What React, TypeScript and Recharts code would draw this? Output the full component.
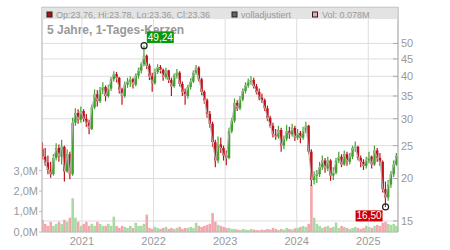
import { ComposedChart, Bar, Line, XAxis, YAxis, CartesianGrid, Cell, ReferenceDot } from 'recharts';

// biweekly candles: [open, high, low, close]
const candles: number[][] = [
  [24.5, 25.6, 22.8, 23.2], [23.2, 24.6, 21.8, 22.3], [22.3, 23.4, 20.6, 21.2], [21.2, 22.4, 20.1, 20.6], [20.6, 23.6, 20.4, 23.0],
  [23.0, 25.4, 22.6, 24.6], [24.6, 25.2, 22.4, 23.2], [23.2, 26.0, 22.0, 24.8], [24.8, 25.0, 19.6, 21.0], [21.0, 24.4, 20.8, 23.6],
  [23.6, 24.0, 19.9, 20.6], [20.6, 30.2, 20.4, 29.2], [29.2, 32.2, 28.6, 31.2], [31.2, 32.0, 29.0, 29.8], [29.8, 32.6, 29.2, 31.6],
  [31.6, 32.0, 29.4, 30.0], [30.0, 31.0, 28.4, 29.2], [29.2, 29.8, 27.0, 28.0], [28.0, 33.0, 27.8, 32.4], [32.4, 36.6, 32.0, 35.4],
  [35.4, 36.4, 32.6, 33.8], [33.8, 37.2, 33.4, 36.4], [36.4, 38.4, 35.4, 37.2], [37.2, 37.6, 33.8, 35.0], [35.0, 37.8, 34.6, 36.8],
  [36.8, 39.8, 36.2, 39.2], [39.2, 41.4, 38.6, 40.6], [40.6, 41.2, 38.4, 39.6], [39.6, 39.8, 35.6, 36.6], [36.6, 37.0, 33.0, 35.0],
  [35.0, 38.6, 34.6, 37.8], [37.8, 39.6, 37.0, 38.6], [38.6, 40.0, 37.2, 39.2], [39.2, 39.6, 36.8, 37.8], [37.8, 40.8, 37.4, 40.2],
  [40.2, 42.4, 39.4, 41.6], [41.6, 44.0, 40.8, 43.4], [43.4, 49.24, 42.8, 46.0], [46.0, 46.4, 42.0, 43.0], [43.0, 43.6, 39.0, 40.0],
  [40.0, 41.0, 36.0, 38.2], [38.2, 42.2, 37.8, 41.2], [41.2, 43.4, 40.6, 42.6], [42.6, 43.2, 40.8, 41.8], [41.8, 42.2, 38.8, 39.8],
  [39.8, 42.4, 39.2, 41.6], [41.6, 41.8, 38.2, 39.0], [39.0, 39.6, 35.0, 37.4], [37.4, 40.8, 37.0, 40.2], [40.2, 42.0, 39.4, 41.0],
  [41.0, 41.4, 37.4, 38.0], [38.0, 38.6, 35.0, 36.0], [36.0, 36.8, 33.0, 35.0], [35.0, 37.8, 34.4, 37.2], [37.2, 39.4, 36.6, 38.6],
  [38.6, 41.6, 38.2, 41.0], [41.0, 43.2, 40.4, 42.4], [42.4, 42.8, 38.6, 39.2], [39.2, 39.6, 35.2, 36.0], [36.0, 36.4, 33.2, 34.0],
  [34.0, 34.4, 30.2, 31.0], [31.0, 31.6, 28.2, 29.0], [29.0, 29.4, 24.8, 25.6], [25.6, 26.0, 21.6, 22.6], [22.6, 26.6, 22.2, 25.2],
  [25.2, 26.4, 23.8, 24.6], [24.6, 25.0, 22.6, 23.4], [23.4, 24.2, 21.9, 23.0], [23.0, 28.2, 22.8, 27.6], [27.6, 30.2, 27.2, 29.6],
  [29.6, 34.4, 29.2, 33.4], [33.4, 34.0, 31.6, 32.2], [32.2, 35.0, 31.8, 34.2], [34.2, 36.8, 33.8, 36.2], [36.2, 38.4, 35.6, 37.6],
  [37.6, 39.4, 37.0, 38.6], [38.6, 40.0, 37.8, 39.0], [39.0, 39.6, 36.8, 37.4], [37.4, 38.0, 35.4, 36.0], [36.0, 36.8, 34.0, 34.6],
  [34.6, 35.6, 33.4, 34.0], [34.0, 34.4, 31.6, 32.2], [32.2, 32.8, 29.6, 30.2], [30.2, 30.6, 28.2, 28.6], [28.6, 29.2, 26.4, 27.0],
  [27.0, 28.0, 26.0, 26.6], [26.6, 28.6, 26.2, 27.8], [27.8, 28.2, 24.0, 25.0], [25.0, 26.8, 24.4, 26.2], [26.2, 28.8, 25.8, 27.6],
  [27.6, 28.4, 26.2, 27.0], [27.0, 29.0, 26.6, 28.2], [28.2, 28.6, 25.8, 26.4], [26.4, 28.0, 26.0, 27.2], [27.2, 27.6, 25.4, 26.4],
  [26.4, 28.4, 26.0, 27.6], [27.6, 29.4, 27.2, 28.6], [28.6, 28.8, 23.6, 24.0], [24.0, 24.4, 19.0, 19.8], [19.8, 21.0, 19.2, 20.4],
  [20.4, 21.2, 19.4, 20.6], [20.6, 22.4, 20.2, 21.6], [21.6, 23.4, 21.2, 22.6], [22.6, 23.0, 20.8, 21.4], [21.4, 23.2, 21.0, 22.6],
  [22.6, 22.8, 19.7, 20.4], [20.4, 21.6, 19.8, 20.8], [20.8, 23.0, 20.6, 22.6], [22.6, 24.0, 22.2, 23.2], [23.2, 23.6, 21.6, 22.0],
  [22.0, 24.2, 21.8, 23.6], [23.6, 24.0, 21.8, 22.4], [22.4, 23.8, 22.0, 23.2], [23.2, 25.0, 22.8, 24.6], [24.6, 25.7, 24.0, 24.8],
  [24.8, 25.0, 22.6, 23.0], [23.0, 23.4, 21.6, 22.4], [22.4, 22.8, 21.2, 21.8], [21.8, 23.2, 21.4, 22.6], [22.6, 24.0, 22.2, 23.2],
  [23.2, 23.4, 21.4, 22.0], [22.0, 25.0, 21.8, 24.2], [24.2, 24.6, 22.4, 23.0], [23.0, 23.8, 21.8, 22.4], [22.4, 22.6, 18.2, 18.6],
  [18.6, 19.6, 16.5, 17.6], [17.6, 19.8, 17.2, 19.2], [19.2, 21.0, 18.8, 20.6], [20.6, 22.6, 20.2, 22.0], [22.0, 23.8, 21.8, 23.36],
];

// volume in millions, one per candle
const volume = [
  0.6, 0.4, 0.3, 0.5, 0.3, 0.4, 0.5, 0.4, 0.6, 0.5,
  0.7, 1.65, 0.7, 0.5, 0.3, 0.4, 0.5, 0.3, 0.4, 0.3,
  0.5, 0.4, 0.3, 0.3, 0.4, 0.3, 0.75, 0.3, 0.2, 0.3,
  0.25, 0.2, 0.3, 0.2, 0.45, 0.3, 0.3, 0.4, 0.85, 0.2,
  0.15, 0.25, 0.2, 0.15, 0.2, 0.25, 0.15, 0.2, 0.15, 0.2,
  0.25, 0.15, 0.2, 0.2, 0.25, 0.2, 0.45, 0.3, 0.25, 0.3,
  0.35, 0.4, 0.93, 0.5, 0.35, 0.3, 0.25, 0.2, 0.2, 0.15,
  0.15, 0.12, 0.1, 0.15, 0.12, 0.1, 0.15, 0.12, 0.1, 0.08,
  0.12, 0.1, 0.15, 0.12, 0.2, 0.15, 0.1, 0.15, 0.12, 0.2,
  0.15, 0.12, 0.18, 0.2, 0.25, 0.3, 0.25, 0.4, 2.3, 0.7,
  0.4, 0.3, 0.2, 0.25, 0.3, 0.2, 0.25, 0.46, 0.2, 0.3,
  0.25, 0.2, 0.15, 0.2, 0.25, 0.2, 0.15, 0.2, 0.3, 0.25,
  0.2, 0.3, 0.35, 0.3, 0.45, 0.5, 0.4, 0.35, 0.4, 0.3,
];

// one candle every two weeks starting mid June 2020
const dates = candles.map((_, i) => 2020.45 + (i * 14) / 365.25);

const yearTicks = [2021, 2022, 2023, 2024, 2025];
const priceTicks = [15, 20, 25, 30, 35, 40, 45, 50];
const volTicks = [0, 1, 2, 3];
const legendOhlc = 'Op:23.76, Hi:23.78, Lo:23.36, Cl:23.36';
const legendVol = 'Vol: 0.078M';

const GREEN = '#3fa22b';
const RED = '#c0131b';
const VOL_UP = '#a8daa2';
const VOL_DOWN = '#f2a6ad';
const AXIS_TEXT = '#999';

const data = dates.map((t, i) => ({
  t,
  o: candles[i][0],
  h: candles[i][1],
  l: candles[i][2],
  c: candles[i][3],
  vol: volume[i],
}));

const highs = data.map((d) => d.h);
const lows = data.map((d) => d.l);
const hiIdx = highs.indexOf(Math.max(...highs));
const loIdx = lows.indexOf(Math.min(...lows));

const fmtPrice = (v: number) => v.toFixed(2).replace('.', ',');
const fmtVol = (v: number) => v.toFixed(1).replace('.', ',') + 'M';

function Candle(props: any) {
  const { x, y, width, height, payload } = props;
  if (x == null || y == null) return null;
  const top = Math.min(y, y + height);
  const bottom = Math.max(y, y + height);
  const { o, h, l, c } = payload;
  const span = Math.log(h) - Math.log(l);
  const py = (v: number) => (span > 0 ? top + ((Math.log(h) - Math.log(v)) / span) * (bottom - top) : top);
  const color = c >= o ? GREEN : RED;
  const mid = x + width / 2;
  const bTop = py(Math.max(o, c));
  const bBot = py(Math.min(o, c));
  return (
    <g>
      <line x1={mid} x2={mid} y1={top} y2={bottom} stroke={color} strokeWidth={1.2} />
      <rect x={x} y={bTop} width={width} height={Math.max(1, bBot - bTop)} fill={color} />
    </g>
  );
}

function PriceTick(props: any) {
  const { x, y, payload } = props;
  return (
    <g>
      <line x1={x - 5} x2={x} y1={y} y2={y} stroke="#aaa" />
      <text x={x + 3} y={y} dy="0.355em" fontSize={11} fill={AXIS_TEXT}>
        {payload.value}
      </text>
    </g>
  );
}

function HighMark(props: any) {
  const { cx, cy } = props;
  return (
    <g>
      <circle cx={cx} cy={cy} r={3} fill="none" stroke="#222" strokeWidth={1.2} />
      <rect x={cx + 2.7} y={cy - 14.3} width={27} height={11.6} fill="#0a960a" />
      <text x={cx + 16.2} y={cy - 5} textAnchor="middle" fontSize={10} fill="#fff">
        {fmtPrice(data[hiIdx].h)}
      </text>
    </g>
  );
}

function LowMark(props: any) {
  const { cx, cy } = props;
  return (
    <g>
      <circle cx={cx} cy={cy} r={3} fill="none" stroke="#222" strokeWidth={1.2} />
      <rect x={cx - 30} y={cy + 3.5} width={27} height={11} fill="#cc0000" />
      <text x={cx - 16.5} y={cy + 12.3} textAnchor="middle" fontSize={10} fill="#fff">
        {fmtPrice(data[loIdx].l)}
      </text>
    </g>
  );
}

const T0 = 2020.442;
const T1 = 2025.415;

export default function App() {
  return (
    <div
      style={{
        position: 'absolute',
        left: 0,
        top: 0,
        width: 450,
        height: 250,
        background: '#fff',
        fontFamily: '"Liberation Sans", Arial, sans-serif',
      }}
    >
      <svg width={450} height={250} style={{ position: 'absolute', left: 0, top: 0 }}>
        <text x={47} y={34} fontSize={12} fontWeight="bold" fill="#999">
          5 Jahre, 1-Tages-Kerzen
        </text>
      </svg>
      <div style={{ position: 'absolute', left: 0, top: 0 }}>
        <ComposedChart width={450} height={250} data={data} margin={{ top: 7, right: 0, bottom: 0, left: 0 }}>
          <XAxis
            xAxisId="time"
            dataKey="t"
            type="number"
            domain={[T0, T1]}
            allowDataOverflow
            ticks={yearTicks}
            interval={0}
            tickFormatter={(v) => String(v)}
            tick={{ fontSize: 11, fill: AXIS_TEXT }}
            tickLine={false}
            tickSize={3}
            tickMargin={2}
            height={18}
            axisLine={{ stroke: '#bbb' }}
          />
          <XAxis xAxisId="vol" dataKey="t" type="number" domain={[T0, T1]} allowDataOverflow hide />
          <YAxis
            yAxisId="vol"
            orientation="left"
            domain={[0, 11]}
            allowDataOverflow
            ticks={volTicks}
            interval={0}
            tickFormatter={fmtVol}
            width={42}
            tick={{ fontSize: 11, fill: AXIS_TEXT }}
            tickSize={3}
            tickMargin={1}
            stroke="#bbb"
          />
          <YAxis
            yAxisId="price"
            orientation="right"
            scale="log"
            domain={[13.92, 64]}
            allowDataOverflow
            ticks={priceTicks}
            interval={0}
            width={52}
            tick={<PriceTick />}
            tickLine={false}
            tickSize={0}
            tickMargin={0}
            axisLine={{ stroke: '#aaa' }}
          />
          <CartesianGrid xAxisId="time" yAxisId="price" stroke="#ddd" />
          <Bar xAxisId="vol" yAxisId="vol" dataKey="vol" barSize={2.6} isAnimationActive={false}>
            {data.map((d, i) => (
              <Cell key={i} fill={d.c >= d.o ? VOL_UP : VOL_DOWN} />
            ))}
          </Bar>
          <Line
            xAxisId="time"
            yAxisId="price"
            dataKey="c"
            stroke="#b4b4b4"
            strokeWidth={1}
            dot={false}
            isAnimationActive={false}
          />
          <Bar
            xAxisId="time"
            yAxisId="price"
            dataKey={(d: any) => [d.l, d.h]}
            barSize={2.8}
            shape={(p: any) => <Candle {...p} />}
            isAnimationActive={false}
          />
          <ReferenceDot
            xAxisId="time"
            yAxisId="price"
            x={data[hiIdx].t}
            y={data[hiIdx].h}
            r={3}
            shape={(p: any) => <HighMark {...p} />}
          />
          <ReferenceDot
            xAxisId="time"
            yAxisId="price"
            x={data[loIdx].t}
            y={data[loIdx].l}
            r={3}
            shape={(p: any) => <LowMark {...p} />}
          />
        </ComposedChart>
      </div>
      <svg width={450} height={250} style={{ position: 'absolute', left: 0, top: 0, pointerEvents: 'none' }}>
        <rect x={42} y={8} width={355.5} height={11} fill="#e3e3e3" />
        <line x1={41.5} x2={398} y1={7.5} y2={7.5} stroke="#ccc" />
        <rect x={47} y={12} width={5} height={5} fill="#b01010" stroke="#222" />
        <text x={56} y={18} fontSize={9} fill={AXIS_TEXT}>
          {legendOhlc}
        </text>
        <rect x={232} y={12} width={5} height={5} fill="#666" stroke="#222" />
        <text x={241} y={18} fontSize={9} fill={AXIS_TEXT}>
          volladjustiert
        </text>
        <rect x={312.5} y={12} width={5} height={5} fill={VOL_DOWN} stroke="#222" />
        <text x={322} y={18} fontSize={9} fill={AXIS_TEXT}>
          {legendVol}
        </text>
      </svg>
    </div>
  );
}
